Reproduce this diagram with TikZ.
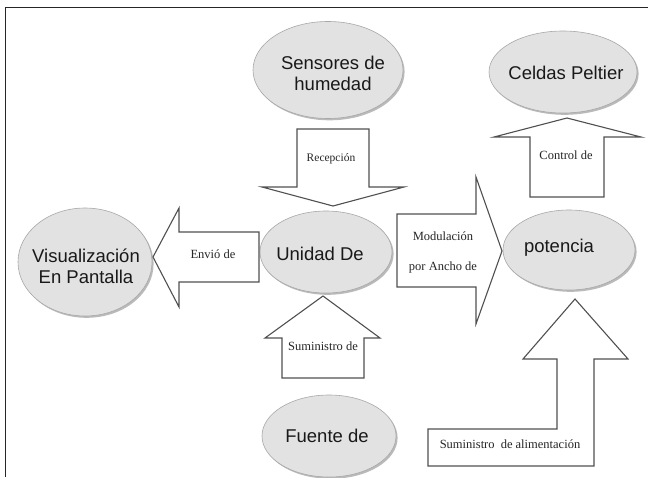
\documentclass[tikz,border=0pt]{standalone}
\usepackage{fontspec}
\setmainfont{Liberation Serif}
\newfontfamily\ellfont{Liberation Sans}
\usetikzlibrary{shapes.geometric,shadows}
\definecolor{ellfill}{HTML}{E2E2E2}
\definecolor{elldraw}{HTML}{A8A8A8}
\definecolor{arrdraw}{HTML}{505050}
\tikzset{
  bubble/.style={ellipse, fill=ellfill, draw=elldraw, line width=0.6pt, inner sep=0pt,
    drop shadow={shadow xshift=1.6pt, shadow yshift=-1.8pt, fill=black!45, opacity=0.6}},
  bubbletext/.style={font=\ellfont\fontsize{18.5}{21}\selectfont, align=center, text=black!90, inner sep=0pt},
  blockarrow/.style={draw=arrdraw, fill=white, line width=1.1pt, line join=miter},
  arrowtext/.style={font=\fontsize{12.5}{14}\selectfont, text=black!85, inner sep=0pt, align=center},
  frameline/.style={draw=black!85, line width=1pt}
}
\begin{document}
\begin{tikzpicture}[x=1pt,y=-1pt]
\useasboundingbox (0,0) rectangle (648,477);
\fill[white] (0,0) rectangle (648,477);
% frame
\coordinate (ftl) at (5,7);
\coordinate (ftr) at (648,7);
\coordinate (fbl) at (5,477);
\draw[frameline] (ftr) -- (ftl) -- (fbl);

% ellipses
\node[bubble, minimum width=150pt, minimum height=97pt] (sens) at (328,70) {};
\node[bubbletext] (senst) at (333,73) {Sensores de\\humedad};
\node[bubble, minimum width=148pt, minimum height=82pt] (celdas) at (563,72) {};
\node[bubbletext] (celdast) at (566,73) {Celdas Peltier};
\node[bubble, minimum width=134pt, minimum height=108pt] (visu) at (85,262) {};
\node[bubbletext] (visut) at (86,266) {Visualización\\En Pantalla};
\node[bubble, minimum width=132pt, minimum height=82pt] (unidad) at (326,252) {};
\node[bubbletext] (unidadt) at (320,254) {Unidad De};
\node[bubble, minimum width=132pt, minimum height=80pt] (pot) at (569,250) {};
\node[bubbletext] (pott) at (559,248) {potencia};
\node[bubble, minimum width=134pt, minimum height=82pt] (fuente) at (329,436) {};
\node[bubbletext] (fuentet) at (327,436) {Fuente de};

% Recepcion (down)
\draw[blockarrow] (297,129) -- (369,129) -- (369,187) -- (404,187) -- (333,206) -- (262,187) -- (297,187) -- cycle;
\node[arrowtext, font=\fontsize{11.5}{13}\selectfont] (recep) at (331,159) {Recepción};

% Control de (up)
\draw[blockarrow] (530,197) -- (604,197) -- (604,137) -- (641,137) -- (567,118) -- (494,137) -- (530,137) -- cycle;
\node[arrowtext] (control) at (566,155) {Control de};

% Envio de (left)
\draw[blockarrow] (259,232) -- (259,282) -- (179,282) -- (179,307) -- (153,257) -- (179,208) -- (179,232) -- cycle;
\node[arrowtext] (envio) at (213,254) {Envió de};

% Modulacion (right)
\draw[blockarrow] (397,214) -- (476,214) -- (476,177) -- (502,251) -- (476,324) -- (476,287) -- (397,287) -- cycle;
\node[arrowtext] (modul) at (443,236) {Modulación};
\node[arrowtext] (ancho) at (443,267) {por Ancho de};

% Suministro de (up)
\draw[blockarrow] (282,378) -- (364,378) -- (364,338) -- (380,338) -- (323,296) -- (265,338) -- (282,338) -- cycle;
\node[arrowtext] (sumin) at (323,346) {Suministro de};

% Suministro de alimentacion (bent up)
\draw[blockarrow] (428,429) -- (557,429) -- (557,359) -- (523,359) -- (575,299) -- (628,359) -- (594,359) -- (594,466) -- (428,466) -- cycle;
\node[arrowtext] (alim) at (510,444) {Suministro\hspace{3pt} de alimentación};
\end{tikzpicture}
\end{document}
